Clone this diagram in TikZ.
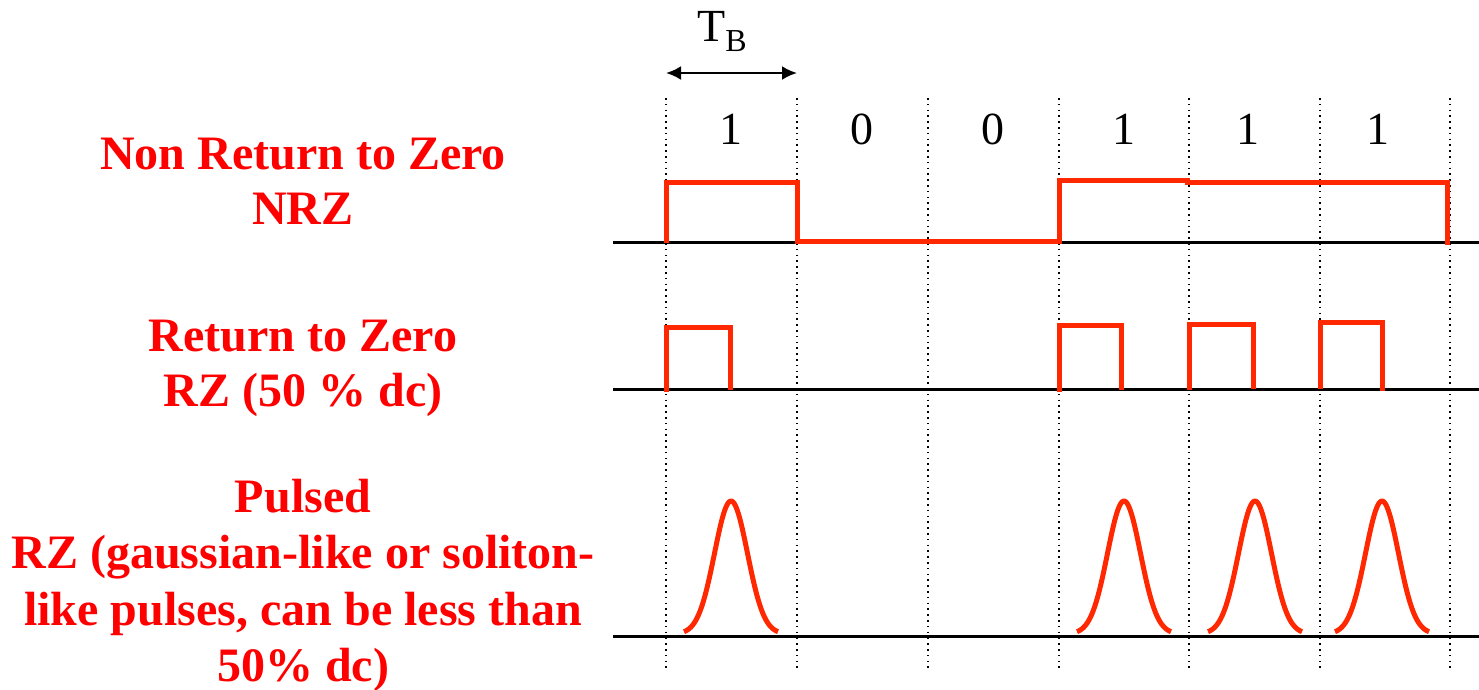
\documentclass[tikz,border=0pt]{standalone}
\usepackage{fontspec}
\setmainfont{Liberation Serif}
\usetikzlibrary{arrows.meta}
\definecolor{lbl}{RGB}{255,0,0}
\definecolor{sig}{RGB}{255,40,0}
\begin{document}
\begin{tikzpicture}[x=1pt,y=-1pt,
  lab/.style={text=lbl,font=\fontsize{48}{56}\selectfont\bfseries,align=center,inner sep=0pt,anchor=base},
  bit/.style={font=\fontsize{46}{46}\selectfont,inner sep=0pt,anchor=base},
  trace/.style={draw=sig,line width=5pt,line join=miter},
  axis/.style={draw=black,line width=3pt},
  grid/.style={draw=black,line width=2pt,dash pattern=on 1.6pt off 4.2pt}]
\useasboundingbox (0,0) rectangle (1479,689);
% dotted bit boundaries
\foreach \x/\n in {666/a,797/b,928/c,1059/d,1189/e,1320/f,1450/g}{
  \coordinate (t\n) at (\x,98);
  \coordinate (b\n) at (\x,672);
  \draw[grid] (t\n) -- (b\n);
}
% T_B arrow
\coordinate (ta) at (666,73);
\coordinate (tb) at (797,73);
\draw[line width=2.4pt,{Latex[length=15pt,width=14pt]}-{Latex[length=15pt,width=14pt]}] (ta) -- (tb);
\node[bit] (TB) at (722,41) {T\raisebox{-10pt}{\fontsize{32}{32}\selectfont B}};
% bit labels
\foreach \x/\v/\n in {731/1/1,862/0/2,993/0/3,1124/1/4,1248/1/5,1378/1/6}{
  \node[bit] (bit\n) at (\x,144) {\v};
}
% left labels
\node[lab] (nrz1) at (303,169) {Non Return to Zero};
\node[lab] (nrz2) at (303,224) {NRZ};
\node[lab] (rz1) at (303,351) {Return to Zero};
\node[lab] (rz2) at (303,406) {RZ (50 \% dc)};
\node[lab] (p1) at (303,512) {Pulsed};
\node[lab] (p2) at (303,568) {RZ (gaussian-like or soliton-};
\node[lab] (p3) at (303,625) {like pulses, can be less than};
\node[lab] (p4) at (303,681) {50\% dc)};
% axes
\coordinate (a1l) at (613,242); \coordinate (a1r) at (1479,242);
\coordinate (a2l) at (613,389); \coordinate (a2r) at (1479,389);
\coordinate (a3l) at (613,636); \coordinate (a3r) at (1479,636);
\draw[axis] (a1l) -- (a1r);
\draw[axis] (a2l) -- (a2r);
\draw[axis] (a3l) -- (a3r);
% NRZ
\draw[trace] (666,243) -- (666,182) -- (797,182) -- (797,241) -- (1059,241) -- (1059,180) -- (1187,180) -- (1187,182) -- (1447,182) -- (1447,245);
% RZ
\draw[trace] (666,392) -- (666,327) -- (730,327) -- (730,390);
\draw[trace] (1059,392) -- (1059,325) -- (1121,325) -- (1121,390);
\draw[trace] (1189,390) -- (1189,324) -- (1253,324) -- (1253,389);
\draw[trace] (1320,389) -- (1320,322) -- (1382,322) -- (1382,391);
% pulsed
\foreach \c in {731,1124,1255,1382}{
  \draw[trace,line join=round] plot[domain=-47:47,samples=80,smooth] ({\c+\x},{634-133*exp(-(\x*\x)/(2*16.5*16.5))});
}
\end{tikzpicture}
\end{document}
